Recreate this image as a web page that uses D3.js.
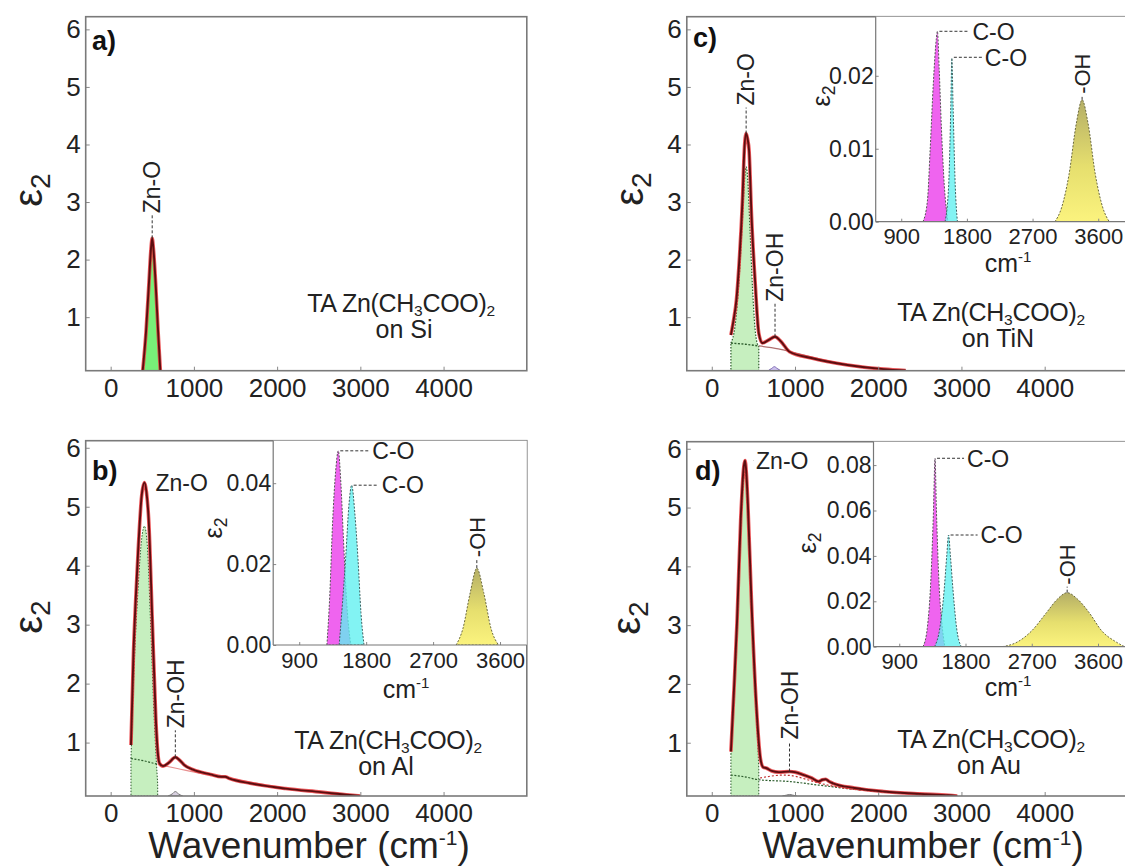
<!DOCTYPE html>
<html><head><meta charset="utf-8">
<script src="https://cdn.jsdelivr.net/npm/d3@7"></script>
<style>body{margin:0;background:#fff}</style>
</head><body><svg id="c" width="1125" height="868"></svg>
<script>
// ---------------- DATA ----------------
const mainXTicks=[0,1000,2000,3000,4000];
const mainYTicks=[1,2,3,4,5,6];
const insetXTicks=[900,1800,2700,3600];
const insetYTicksB=[0,0.02,0.04];
const insetYTicksC=[0,0.01,0.02];
const insetYTicksD=[0,0.02,0.04,0.06,0.08];
const panelLetters=["a)","b)","c)","d)"];
const substrates=["Si","Al","TiN","Au"];

// panel a
const aTotal=[[385,0.07],[425,0.75],[460,1.6],[485,2.2],[499,2.37],[513,2.2],[540,1.6],[570,0.75],[597,0.07]];
const aZnO=[[391,0.07],[427,0.75],[461,1.6],[485,2.15],[499,2.3],[513,2.15],[539,1.6],[567,0.75],[591,0.07]];

// panel b (Al)
const bTotal=[[244,0.96],[274,2.52],[300,3.4],[329,4.22],[372,5.18],[406,5.41],[430,5.25],[457,4.78],[500,3.08],[543,1.39],[565,0.85],[586,0.65],[629,0.6],[700,0.66],[777,0.75],[830,0.7],[884,0.62],[991,0.54],[1200,0.46],[1330,0.42],[1376,0.42],[1430,0.39],[1675,0.31],[2102,0.22],[2529,0.16],[2871,0.11],[3000,0.095]];
const bZnO=[[244,0.73],[274,2.0],[329,3.6],[372,4.45],[406,4.67],[440,4.35],[480,3.0],[520,1.5],[548,0.7],[565,0.3]];
const bBase=[[244,0.73],[400,0.69],[565,0.63],[800,0.56],[1067,0.48],[1400,0.4],[1800,0.3],[2200,0.21],[2600,0.14],[3000,0.095]];
const bZnOH=[[690,0.094],[740,0.13],[777,0.17],[815,0.13],[865,0.094]];
const biMag=[[1272,0],[1310,0.012],[1348,0.03],[1390,0.043],[1425,0.048],[1460,0.04],[1495,0.026],[1540,0.01],[1593,0]];
const biCyan=[[1437,0],[1480,0.01],[1526,0.022],[1570,0.035],[1605,0.0395],[1650,0.032],[1691,0.021],[1730,0.008],[1771,0]];
const biOH=[[3010,0],[3100,0.004],[3200,0.013],[3288,0.019],[3380,0.013],[3480,0.004],[3580,0]];

// panel c (TiN)
const cTotal=[[230,0.69],[262,0.95],[296,1.3],[326,1.88],[369,3.04],[391,3.9],[413,4.19],[430,4.1],[448,3.9],[478,2.75],[522,1.59],[565,0.72],[608,0.55],[680,0.6],[760,0.66],[830,0.58],[934,0.4],[1195,0.29],[1630,0.17],[2065,0.097],[2330,0.073]];
const cZnO=[[230,0.55],[280,0.85],[330,1.7],[365,2.6],[395,3.4],[413,3.61],[432,3.4],[460,2.5],[490,1.5],[520,0.8],[545,0.55],[565,0.5]];
const cBase=[[230,0.55],[400,0.53],[565,0.5],[800,0.45],[1000,0.38],[1300,0.27],[1700,0.16],[2100,0.09],[2330,0.073]];
const cZnOH=[[680,0.073],[720,0.11],[752,0.14],[785,0.11],[825,0.073]];
const ciMag=[[1198,0],[1260,0.003],[1296,0.0098],[1340,0.019],[1380,0.025],[1396,0.0261],[1420,0.021],[1450,0.013],[1490,0.005],[1540,0]];
const ciCyan=[[1500,0],[1550,0.005],[1580,0.016],[1594,0.0224],[1610,0.016],[1640,0.005],[1670,0]];
const ciOH=[[3007,0],[3100,0.002],[3200,0.0065],[3300,0.0135],[3379,0.0167],[3460,0.0135],[3560,0.0065],[3660,0.002],[3751,0]];

// panel d (Au)
const dTotal=[[230,0.85],[270,2.0],[304,3.08],[347,4.78],[385,5.7],[400,5.8],[415,5.6],[434,5.06],[478,3.37],[534,1.67],[587,0.71],[620,0.58],[652,0.57],[720,0.52],[804,0.5],[934,0.51],[1000,0.5],[1108,0.45],[1200,0.4],[1282,0.34],[1330,0.37],[1369,0.38],[1410,0.34],[1456,0.31],[1717,0.23],[2065,0.17],[2499,0.13],[2847,0.107],[2950,0.094]];
const dZnO=[[230,0.8],[270,1.9],[304,2.95],[347,4.6],[385,5.5],[400,5.62],[415,5.45],[434,4.9],[478,3.2],[534,1.5],[555,0.9],[565,0.55]];
const dBase=[[230,0.45],[400,0.42],[565,0.37],[934,0.34],[1282,0.28],[1630,0.22],[2000,0.17],[2500,0.13],[2950,0.1]];
const dRed=[[580,0.4],[700,0.43],[850,0.45],[1000,0.43],[1150,0.37],[1300,0.31],[1500,0.25],[1800,0.19]];
const dZnOH=[[850,0.094],[900,0.11],[934,0.12],[970,0.11],[1020,0.094]];
const diMag=[[1222,0],[1280,0.008],[1330,0.03],[1365,0.06],[1386,0.083],[1405,0.06],[1440,0.028],[1480,0.01],[1519,0]];
const diCyan=[[1380,0],[1450,0.008],[1510,0.025],[1545,0.04],[1570,0.0492],[1595,0.04],[1630,0.025],[1680,0.008],[1742,0]];
const diOH=[[2300,0],[2500,0.002],[2700,0.007],[2900,0.015],[3050,0.021],[3181,0.0238],[3320,0.021],[3480,0.015],[3650,0.007],[3850,0.002],[3960,0]];

// ---------------- DRAWING ----------------
const svg=d3.select("#c");
const FONT='"Liberation Sans", Arial, Helvetica, sans-serif';
const defs=svg.append("defs");
let clipN=0;

function clip(x0,y0,w,h){
  const id="cl"+(clipN++);
  defs.append("clipPath").attr("id",id).append("rect").attr("x",x0).attr("y",y0).attr("width",w).attr("height",h);
  return `url(#${id})`;
}
function grad(id){
  const g=defs.append("linearGradient").attr("id",id).attr("x1",0).attr("y1",0).attr("x2",0).attr("y2",1);
  g.append("stop").attr("offset","0%").attr("stop-color","#b4ae66");
  g.append("stop").attr("offset","55%").attr("stop-color","#e6df6e");
  g.append("stop").attr("offset","100%").attr("stop-color","#fbf37e");
}
["gb","gc","gd"].forEach(grad);

function styleAxis(ax,fs){
  ax.select(".domain").remove();
  ax.selectAll("line").attr("stroke","#888").attr("stroke-width",1);
  ax.selectAll("text").attr("font-family",FONT).attr("font-size",fs).attr("fill","#222");
}

function vLabel(g,x,y,L,t,fs){
  g.append("line").attr("x1",x).attr("x2",x).attr("y1",y).attr("y2",y-L)
   .attr("stroke","#333").attr("stroke-width",1).attr("stroke-dasharray","3,2");
  g.append("text").attr("transform",`translate(${x},${y-L-2}) rotate(-90)`)
   .attr("dy","0.36em").attr("font-family",FONT).attr("font-size",fs).attr("fill","#222").text(t);
}
function hLabel(g,x,y,L,t,fs){
  g.append("line").attr("x1",x).attr("x2",x+L).attr("y1",y).attr("y2",y)
   .attr("stroke","#333").attr("stroke-width",1).attr("stroke-dasharray","3,2");
  g.append("text").attr("x",x+L+3).attr("y",y).attr("dy","0.36em")
   .attr("font-family",FONT).attr("font-size",fs).attr("fill","#222").text(t);
}
function formula(g,cx,cy,cx2,sub,fs){
  const t=g.append("text").attr("x",cx).attr("y",cy).attr("text-anchor","middle")
    .attr("font-family",FONT).attr("font-size",fs).attr("fill","#222").attr("letter-spacing",-0.3);
  t.append("tspan").text("TA Zn(CH");
  t.append("tspan").attr("font-size",fs*0.62).attr("dy",fs*0.16).text("3");
  t.append("tspan").attr("dy",-fs*0.16).text("COO)");
  t.append("tspan").attr("font-size",fs*0.62).attr("dy",fs*0.16).text("2");
  g.append("text").attr("x",cx2).attr("y",cy+26).attr("text-anchor","middle")
    .attr("font-family",FONT).attr("font-size",fs).attr("fill","#222").text("on "+sub);
}
function epsLabel(g,x,y,fs){
  const t=g.append("text").attr("transform",`translate(${x},${y}) rotate(-90)`)
    .attr("text-anchor","middle").attr("dy","0.3em").attr("font-family",FONT).attr("font-size",fs).attr("fill","#222");
  t.append("tspan").text("\u03B5");
  t.append("tspan").attr("font-size",fs*0.7).attr("dy",fs*0.2).text("2");
}
function cmLabel(g,x,y,fs){
  const t=g.append("text").attr("x",x).attr("y",y).attr("text-anchor","middle")
    .attr("font-family",FONT).attr("font-size",fs).attr("fill","#222");
  t.append("tspan").text("cm");
  t.append("tspan").attr("font-size",fs*0.6).attr("dy",-fs*0.4).text("-1");
}
function wavLabel(x){
  svg.append("text").attr("x",x).attr("y",858).attr("text-anchor","middle").attr("font-family",FONT).attr("font-size",37).attr("fill","#222")
    .call(t=>{t.append("tspan").text("Wavenumber (cm");t.append("tspan").attr("font-size",21).attr("dy",-13).text("-1");t.append("tspan").attr("dy",13).text(")");});
}

function main(p){
  const x=d3.scaleLinear().domain(p.xd).range([p.x0,p.x1]);
  const y=d3.scaleLinear().domain(p.yd).range([p.y1,p.y0]);
  const g=svg.append("g");
  const pg=g.append("g").attr("clip-path",clip(p.x0,p.y0,p.x1-p.x0,p.y1-p.y0));
  const line=d3.line().x(e=>x(e[0])).y(e=>y(e[1])).curve(d3.curveMonotoneX);
  const area=d3.area().x(e=>x(e[0])).y0(y(p.yd[0])).y1(e=>y(e[1])).curve(d3.curveMonotoneX);
  return {x,y,g,pg,line,area};
}
function mainAxes(p,s){
  const ax=s.g.append("g").attr("transform",`translate(0,${p.y1})`)
    .call(d3.axisBottom(s.x).tickValues(mainXTicks).tickSizeInner(-4).tickSizeOuter(0).tickPadding(8).tickFormat(d3.format("d")));
  styleAxis(ax,26);
  const ay=s.g.append("g").attr("transform",`translate(${p.x0},0)`)
    .call(d3.axisLeft(s.y).tickValues(mainYTicks).tickSizeInner(-4).tickSizeOuter(0).tickPadding(5).tickFormat(d3.format("d")));
  styleAxis(ay,26);
  s.g.append("rect").attr("x",p.x0).attr("y",p.y0).attr("width",p.x1-p.x0).attr("height",p.y1-p.y0)
    .attr("fill","none").attr("stroke","#7a7a7a").attr("stroke-width",1.6);
}
function totalCurve(s,data){
  s.pg.append("path").datum(data).attr("d",s.line).attr("fill","none").attr("stroke","#e8383c").attr("stroke-width",3.6).attr("stroke-opacity",0.85);
  s.pg.append("path").datum(data).attr("d",s.line).attr("fill","none").attr("stroke","#5c0e10").attr("stroke-width",1.9);
}
function inset(p,mag,cyan,oh,yt,gid){
  const x=d3.scaleLinear().domain(p.xd).range([p.x0,p.x1]);
  const y=d3.scaleLinear().domain(p.yd).range([p.y1,p.y0]);
  const g=svg.append("g");
  const right=p.frameRight||p.x1;
  g.append("rect").attr("x",p.x0).attr("y",p.y0).attr("width",right-p.x0).attr("height",p.y1-p.y0).attr("fill","#fff");
  const pg=g.append("g").attr("clip-path",clip(p.x0,p.y0,right-p.x0,p.y1-p.y0));
  const area=d3.area().x(e=>x(e[0])).y0(y(0)).y1(e=>y(e[1])).curve(d3.curveMonotoneX);
  pg.append("path").datum(mag).attr("d",area).attr("fill","#ee5cee").attr("fill-opacity",0.95)
    .attr("stroke","#555").attr("stroke-width",1).attr("stroke-dasharray","2,1.5");
  pg.append("path").datum(cyan).attr("d",area).attr("fill","#5ff0f0").attr("fill-opacity",0.78)
    .attr("stroke","#3c6060").attr("stroke-width",1).attr("stroke-dasharray","2,1.5");
  pg.append("path").datum(oh).attr("d",area).attr("fill",`url(#${gid})`)
    .attr("stroke","#6b6a40").attr("stroke-width",1).attr("stroke-dasharray","2,1.5");
  const ax=g.append("g").attr("transform",`translate(0,${p.y1})`)
    .call(d3.axisBottom(x).tickValues(insetXTicks).tickSizeInner(-3).tickSizeOuter(0).tickPadding(7).tickFormat(d3.format("d")));
  styleAxis(ax,22);
  const ay=g.append("g").attr("transform",`translate(${p.x0},0)`)
    .call(d3.axisLeft(y).tickValues(yt).tickSizeInner(-3).tickSizeOuter(0).tickPadding(2).tickFormat(d3.format(".2f")));
  styleAxis(ay,23);
  g.append("line").attr("x1",p.x0).attr("x2",p.x0).attr("y1",p.y0).attr("y2",p.y1).attr("stroke","#777").attr("stroke-width",1.2);
  g.append("line").attr("x1",p.x0).attr("x2",right).attr("y1",p.y1).attr("y2",p.y1).attr("stroke","#777").attr("stroke-width",1.2);
  return {x,y,g};
}
function letter(x,y,t){
  svg.append("text").attr("x",x).attr("y",y).attr("dy","0.36em").attr("font-family",FONT)
    .attr("font-weight","bold").attr("font-size",27).attr("fill","#111").text(t);
}

const XR=[85.7,526.8], XR2=[686.8,1127.9];

// ---- panel a ----
const pa={x0:XR[0],x1:XR[1],y0:16.7,y1:370.7,xd:[-300,5000],yd:[0.07,6.22]};
const sa=main(pa);
sa.pg.append("path").datum(aZnO).attr("d",sa.area).attr("fill","#78f078");
totalCurve(sa,aTotal);
mainAxes(pa,sa);
vLabel(sa.g,sa.x(499),sa.y(2.37),23,"Zn-O",23);
formula(sa.g,401,312,404,substrates[0],25);
epsLabel(svg,30,190,40);
letter(92,40,panelLetters[0]);

// ---- panel b ----
const pb={x0:XR[0],x1:XR[1],y0:440.7,y1:796,xd:[-300,5000],yd:[0.094,6.12]};
const sb=main(pb);
sb.pg.append("path").datum(bZnO).attr("d",sb.area).attr("fill","#c6efbf").attr("stroke","#2e5e2e").attr("stroke-width",1).attr("stroke-dasharray","1.5,1.5");
sb.pg.append("path").datum(bZnOH).attr("d",sb.area).attr("fill","#d8d0e0").attr("stroke","#777").attr("stroke-width",1);
sb.pg.append("path").datum(bBase.filter(e=>e[0]<=565)).attr("d",sb.line).attr("fill","none").attr("stroke","#2e5e2e").attr("stroke-width",1.2).attr("stroke-dasharray","2,1.5");
sb.pg.append("path").datum(bBase.filter(e=>e[0]>=565)).attr("d",sb.line).attr("fill","none").attr("stroke","#e89090").attr("stroke-width",1.2);
totalCurve(sb,bTotal);
mainAxes(pb,sb);
hLabel(sb.g,sb.x(406)+8,sb.y(5.41),0,"Zn-O",23);
vLabel(sb.g,sb.x(777),sb.y(0.75),27,"Zn-OH",23);
formula(sb.g,388,749,386,substrates[1],25);
epsLabel(svg,30,617,40);
letter(92,470,panelLetters[1]);
wavLabel(309);

const pbi={x0:273.2,x1:XR[1],y0:440.7,y1:645,xd:[550,3960],yd:[0,0.0505]};
const sbi=inset(pbi,biMag,biCyan,biOH,insetYTicksB,"gb");
hLabel(sbi.g,sbi.x(1425)+2,sbi.y(0.048),29,"C-O",23);
hLabel(sbi.g,sbi.x(1605)+2,sbi.y(0.0395),25,"C-O",23);
vLabel(sbi.g,sbi.x(3288),sbi.y(0.019),9,"-OH",22);
cmLabel(sbi.g,406,698,25);
epsLabel(sbi.g,214,528,25);

// ---- panel c ----
const pc={x0:XR2[0],x1:XR2[1],y0:16.7,y1:370.7,xd:[-300,5000],yd:[0.07,6.22]};
const sc=main(pc);
sc.pg.append("path").datum(cZnO).attr("d",sc.area).attr("fill","#c6efbf").attr("stroke","#2e5e2e").attr("stroke-width",1.2).attr("stroke-dasharray","1.5,1.5");
sc.pg.append("path").datum(cZnOH).attr("d",sc.area).attr("fill","#cfc2f0").attr("stroke","#7a68b0").attr("stroke-width",1);
sc.pg.append("path").datum(cBase.filter(e=>e[0]<=565)).attr("d",sc.line).attr("fill","none").attr("stroke","#2e5e2e").attr("stroke-width",1.4).attr("stroke-dasharray","2,1.5");
sc.pg.append("path").datum(cBase.filter(e=>e[0]>=565)).attr("d",sc.line).attr("fill","none").attr("stroke","#b07070").attr("stroke-width",1.2);
totalCurve(sc,cTotal);
mainAxes(pc,sc);
vLabel(sc.g,sc.x(413),sc.y(4.19),26,"Zn-O",23);
vLabel(sc.g,sc.x(760),sc.y(0.66),33,"Zn-OH",23);
formula(sc.g,991,321,998,substrates[2],25);
epsLabel(svg,631,189,40);
letter(693,37,panelLetters[2]);

const pci={x0:875.7,x1:1124.5,frameRight:XR2[1],y0:16.7,y1:221.7,xd:[550,3960],yd:[0,0.0281]};
const sci=inset(pci,ciMag,ciCyan,ciOH,insetYTicksC,"gc");
hLabel(sci.g,sci.x(1396)+2,sci.y(0.0261),30,"C-O",23);
hLabel(sci.g,sci.x(1594)+2,sci.y(0.0224)-1,28,"C-O",23);
vLabel(sci.g,sci.x(3379),sci.y(0.0167),4,"-OH",22);
cmLabel(sci.g,1008,272,25);
epsLabel(sci.g,822,96,25);

// ---- panel d ----
const pd={x0:XR2[0],x1:XR2[1],y0:441.7,y1:796,xd:[-300,5000],yd:[0.094,6.12]};
const sd=main(pd);
sd.pg.append("path").datum(dZnO).attr("d",sd.area).attr("fill","#c6efbf").attr("stroke","#2e5e2e").attr("stroke-width",1).attr("stroke-dasharray","1.5,1.5");
sd.pg.append("path").datum(dZnOH).attr("d",sd.area).attr("fill","#d8d0e0").attr("stroke","#777").attr("stroke-width",1);
sd.pg.append("path").datum(dBase).attr("d",sd.line).attr("fill","none").attr("stroke","#2e5e2e").attr("stroke-width",1.2).attr("stroke-dasharray","2,1.5");
sd.pg.append("path").datum(dRed).attr("d",sd.line).attr("fill","none").attr("stroke","#c03030").attr("stroke-width",1.2).attr("stroke-dasharray","2,2");
totalCurve(sd,dTotal);
mainAxes(pd,sd);
hLabel(sd.g,sd.x(400)+8,sd.y(5.8),0,"Zn-O",23);
vLabel(sd.g,sd.x(934),sd.y(0.51),30,"Zn-OH",23);
formula(sd.g,991,748,989,substrates[3],25);
epsLabel(svg,628,618,40);
letter(695,470,panelLetters[3]);
wavLabel(923);

const pdi={x0:873.5,x1:1124.5,frameRight:XR2[1],y0:441.7,y1:646.7,xd:[550,3960],yd:[0,0.0903]};
const sdi=inset(pdi,diMag,diCyan,diOH,insetYTicksD,"gd");
hLabel(sdi.g,sdi.x(1386)+2,sdi.y(0.083),27,"C-O",23);
hLabel(sdi.g,sdi.x(1570)+2,sdi.y(0.0492),27,"C-O",23);
vLabel(sdi.g,sdi.x(3181),sdi.y(0.0238),6,"-OH",22);
cmLabel(sdi.g,1008,696,25);
epsLabel(sdi.g,808,543,25);
</script></body></html>
